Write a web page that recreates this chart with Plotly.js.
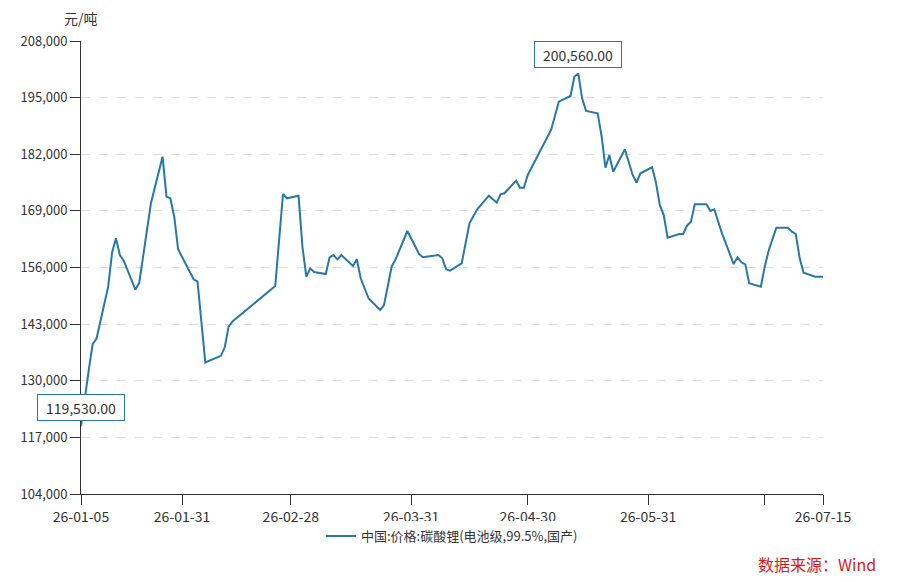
<!DOCTYPE html>
<html>
<head>
<meta charset="utf-8">
<script src="https://cdn.plot.ly/plotly-3.0.1.min.js"></script>
<style>
html,body{margin:0;padding:0;background:#fff;}
#chart{width:902px;height:582px;}
</style>
</head>
<body>
<div id="chart"></div>
<script>
var seriesName = '中国:价格:碳酸锂(电池级,99.5%,国产)';
var unitLabel = '元/吨';
var sourceLabel = '数据来源：Wind';

var dates = [
  '2026-01-05','2026-01-06','2026-01-07','2026-01-08','2026-01-09',
  '2026-01-12','2026-01-13','2026-01-14','2026-01-15','2026-01-16',
  '2026-01-19','2026-01-20','2026-01-23',
  '2026-01-26','2026-01-27','2026-01-28','2026-01-29','2026-01-30',
  '2026-02-03','2026-02-04','2026-02-06',
  '2026-02-10','2026-02-11','2026-02-12','2026-02-13',
  '2026-02-24','2026-02-26','2026-02-27',
  '2026-03-02','2026-03-03','2026-03-04','2026-03-05','2026-03-06',
  '2026-03-09','2026-03-10','2026-03-11','2026-03-12','2026-03-13',
  '2026-03-16','2026-03-17','2026-03-18','2026-03-20',
  '2026-03-23','2026-03-24','2026-03-26','2026-03-27',
  '2026-03-30','2026-04-01','2026-04-02','2026-04-03',
  '2026-04-07','2026-04-08','2026-04-09','2026-04-10',
  '2026-04-13','2026-04-15','2026-04-17',
  '2026-04-20','2026-04-22','2026-04-23','2026-04-24',
  '2026-04-27','2026-04-28','2026-04-29','2026-04-30',
  '2026-05-06','2026-05-08',
  '2026-05-11','2026-05-12','2026-05-13','2026-05-14','2026-05-15',
  '2026-05-18','2026-05-19','2026-05-20','2026-05-21','2026-05-22',
  '2026-05-25','2026-05-27','2026-05-28','2026-05-29',
  '2026-06-01','2026-06-02','2026-06-03','2026-06-04','2026-06-05',
  '2026-06-08','2026-06-09','2026-06-10','2026-06-11','2026-06-12',
  '2026-06-15','2026-06-16','2026-06-17','2026-06-19',
  '2026-06-22','2026-06-23','2026-06-24','2026-06-25','2026-06-26',
  '2026-06-29','2026-06-30','2026-07-01','2026-07-03',
  '2026-07-06','2026-07-07','2026-07-08','2026-07-09','2026-07-10',
  '2026-07-13','2026-07-14','2026-07-15'
];

var prices = [
  119530,126500,132500,138400,139700,
  151600,159400,162700,158870,157560,
  150900,152520,170740,
  181440,172260,171890,167660,160180,
  153290,152740,134200,
  135720,137680,142420,143600,
  151750,172870,171890,
  172490,160780,153900,155810,154970,
  154510,158340,158870,157880,158870,
  156340,157880,153520,148930,
  146240,147390,156340,157880,
  164380,160940,159100,158340,
  158870,158110,155580,155270,
  156950,166150,169360,
  172490,170890,172800,173040,
  175930,174320,174320,177240,
  187570,194070,
  195370,199800,200560,194850,191930,
  191400,186190,178910,181830,178000,
  183130,177240,175470,177620,
  179000,175500,170300,168050,162840,
  163690,163690,165600,166520,170510,
  170510,168970,169360,163840,
  156800,158340,157190,156730,152370,
  151600,156190,159860,165140,
  165140,164230,163690,158110,154810,
  153900,153900,153900
];

var yTicks = [104000,117000,130000,143000,156000,169000,182000,195000,208000];
var xTickVals = ['2026-01-05','2026-01-31','2026-02-28','2026-03-31','2026-04-30','2026-05-31','2026-06-30','2026-07-15'];
var xTickText = ['26-01-05','26-01-31','26-02-28','26-03-31','26-04-30','26-05-31','','26-07-15'];

var lineColor = '#2678aa';
var fontFam = '"Noto Sans CJK SC", "Noto Sans", sans-serif';

function fmt2(v){
  return v.toLocaleString('en-US',{minimumFractionDigits:2, maximumFractionDigits:2});
}
var maxV = Math.max.apply(null, prices), minV = Math.min.apply(null, prices);
var iMax = prices.indexOf(maxV), iMin = prices.indexOf(minV);

function boxNote(i){
  return {
    x: dates[i], y: prices[i], xref:'x', yref:'y',
    text: fmt2(prices[i]), showarrow:false,
    yanchor:'bottom', xanchor:'center', yshift:5,
    width:78, height:17, align:'center', valign:'middle',
    bgcolor:'#ffffff', bordercolor:lineColor, borderwidth:1, borderpad:4,
    font:{family:fontFam, size:14, color:'#333333'}
  };
}

var trace = {
  x: dates, y: prices, type:'scatter', mode:'lines', name: seriesName,
  line:{color:lineColor, width:2}
};

var layout = {
  width:902, height:582,
  margin:{l:81, r:79, t:41, b:88},
  paper_bgcolor:'#ffffff', plot_bgcolor:'#ffffff',
  font:{family:fontFam, size:13, color:'#333333'},
  showlegend:true,
  legend:{orientation:'h', x:0.5, xanchor:'center', y:-0.093, yanchor:'middle',
          font:{family:fontFam, size:13, color:'#333333'}},
  xaxis:{
    type:'date', range:['2026-01-05','2026-07-15'],
    tickvals:xTickVals, ticktext:xTickText,
    showgrid:false, zeroline:false,
    showline:true, linecolor:'#333333', linewidth:1,
    ticks:'outside', ticklen:10, tickcolor:'#333333',
    tickfont:{family:fontFam, size:14, color:'#333333'}
  },
  yaxis:{
    range:[104000,208000], tickvals:yTicks, tickformat:',d',
    showgrid:true, gridcolor:'#dddddd', griddash:'dash', gridwidth:1,
    zeroline:false, showline:true, linecolor:'#333333', linewidth:1,
    ticks:'outside', ticklen:10, tickcolor:'#333333',
    tickfont:{family:fontFam, size:13, color:'#333333'}
  },
  annotations:[
    boxNote(iMax), boxNote(iMin),
    {xref:'paper', yref:'paper', x:0, y:1.05, xanchor:'center', yanchor:'middle',
     text:unitLabel, showarrow:false, font:{family:fontFam, size:14, color:'#333333'}},
    {xref:'paper', yref:'paper', x:1.074, y:-0.155, xanchor:'right', yanchor:'middle',
     text:sourceLabel, showarrow:false, font:{family:fontFam, size:16, color:'#e0181c'}}
  ]
};

Plotly.newPlot('chart', [trace], layout, {displayModeBar:false, staticPlot:true});
</script>
</body>
</html>
